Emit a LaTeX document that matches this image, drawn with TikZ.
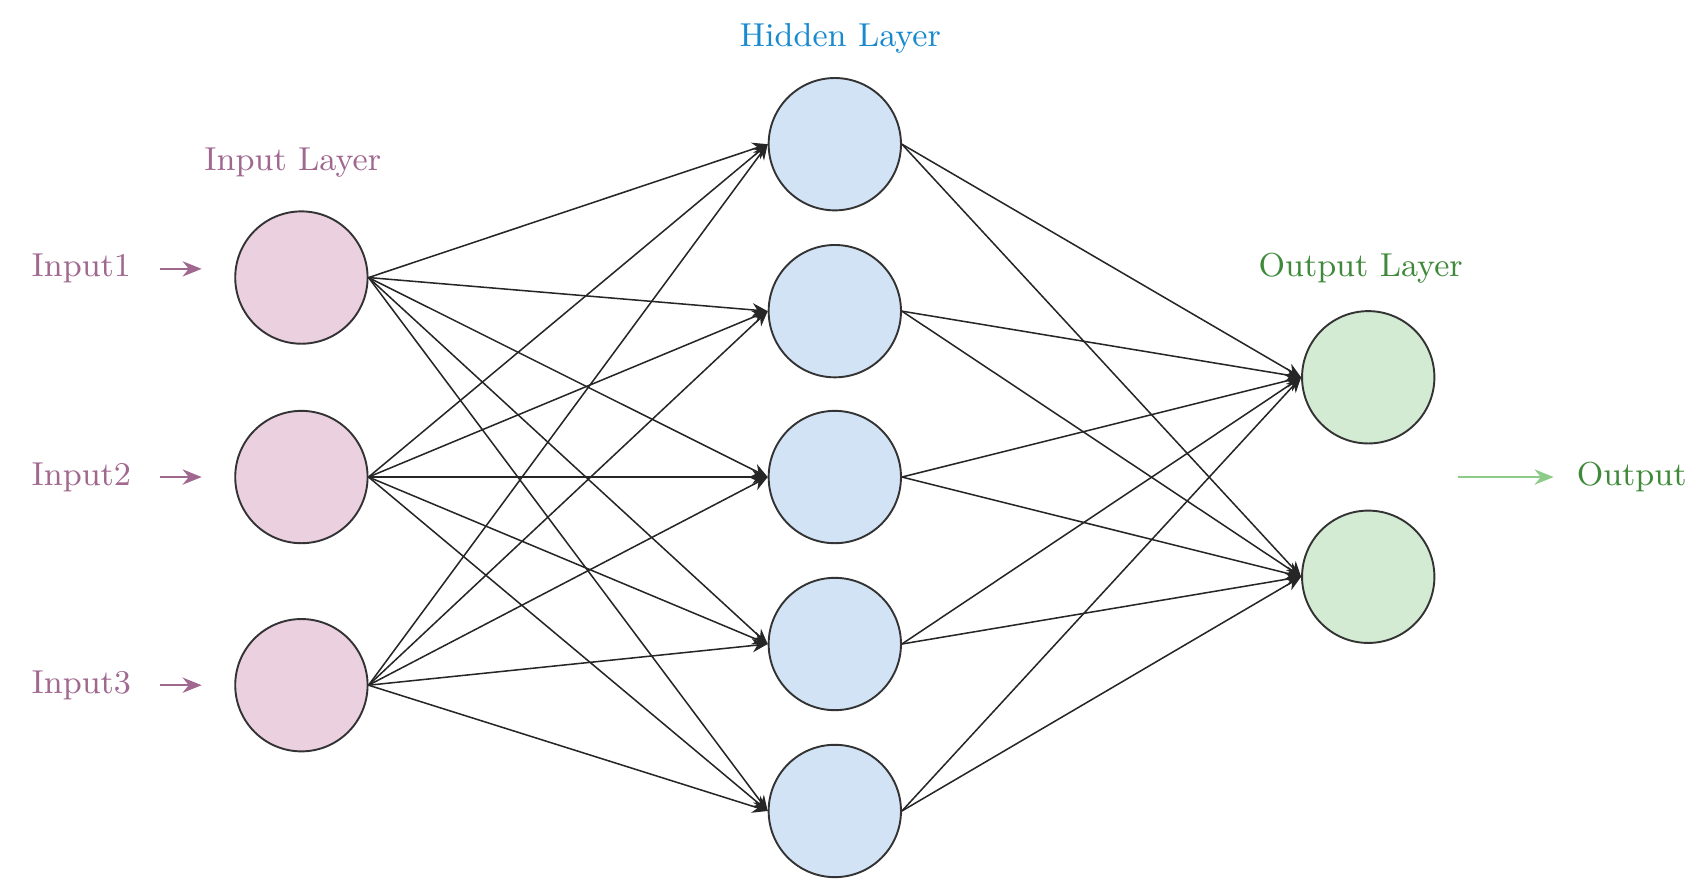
\documentclass[tikz,border=0pt]{standalone}
\usetikzlibrary{arrows.meta}
\begin{document}
\begin{tikzpicture}[x=0.01cm,y=-0.01cm,
  neuron/.style={circle,draw=black!80,line width=0.5pt,minimum size=1.22cm,inner sep=0pt},
  inpn/.style={neuron,fill=pinkf},
  hidn/.style={neuron,fill=bluef},
  outn/.style={neuron,fill=greenf},
  conn/.style={-{Stealth[length=4pt,width=3.5pt]},line width=0.4pt,black!85},
  lbl/.style={font=\fontsize{8.7}{10}\selectfont}]
\definecolor{pinkf}{HTML}{EBD0E0}
\definecolor{bluef}{HTML}{D1E3F5}
\definecolor{greenf}{HTML}{D3EAD3}
\definecolor{pinkt}{HTML}{A0688F}
\definecolor{bluet}{HTML}{1A8ACF}
\definecolor{greent}{HTML}{3F8A3A}
\definecolor{greena}{HTML}{8CCB88}
\useasboundingbox (0,0) rectangle (1568,824);
\foreach \n/\y in {1/256,2/440,3/632} \node[inpn] (i\n) at (278,\y) {};
\foreach \n/\y in {1/133,2/287,3/440,4/594,5/748} \node[hidn] (h\n) at (770,\y) {};
\foreach \n/\y in {1/348,2/532} \node[outn] (o\n) at (1262,\y) {};
\node[lbl,text=pinkt] (li) at (270,150) {Input Layer};
\node[lbl,text=bluet] (lh) at (775,35) {Hidden Layer};
\node[lbl,text=greent] (lo) at (1255,247) {Output Layer};
\foreach \n/\y in {1/248,2/440,3/632}{
  \node[lbl,text=pinkt] (t\n) at (75,\y) {Input\n};
  \coordinate (as\n) at (148,\y);
  \coordinate (ae\n) at (186,\y);
  \draw[-{Stealth[length=5pt,width=4pt]},pinkt,line width=0.6pt] (as\n) -- (ae\n);
}
\coordinate (os) at (1345,440);
\coordinate (oe) at (1433,440);
\draw[-{Stealth[length=5pt,width=4pt]},greena,line width=0.6pt] (os) -- (oe);
\node[lbl,text=greent] (ot) at (1505,440) {Output};
\foreach \i in {1,2,3} \foreach \h in {1,...,5} \draw[conn] (i\i.east) -- (h\h.west);
\foreach \h in {1,...,5} \foreach \o in {1,2} \draw[conn] (h\h.east) -- (o\o.west);
\end{tikzpicture}
\end{document}
